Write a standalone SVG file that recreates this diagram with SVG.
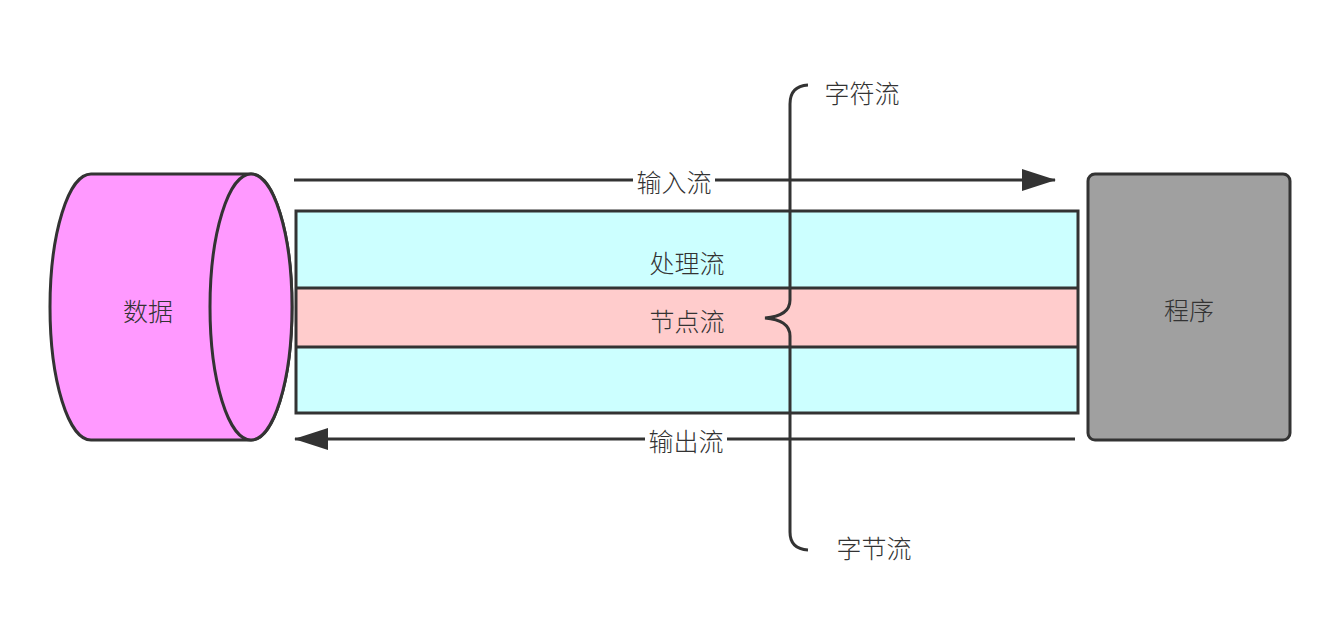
<svg xmlns="http://www.w3.org/2000/svg" width="1340" height="636" viewBox="0 0 1340 636">
<defs>
<style>
.s{stroke:#333;stroke-width:3;fill:none}
.t{font-family:"Noto Sans CJK SC","Liberation Sans",sans-serif;font-size:25px;font-weight:300;fill:#333;text-anchor:middle;dominant-baseline:central}
</style>
<marker id="ah" viewBox="0 0 34 22" refX="33" refY="11" markerWidth="34" markerHeight="22" markerUnits="userSpaceOnUse" orient="auto">
<path d="M0 0 L34 11 L0 22 Z" fill="#333"/>
</marker>
</defs>
<rect width="1340" height="636" fill="#fff"/>
<g id="bands">
<rect x="296" y="211" width="782" height="77" fill="#CCFFFF"/>
<rect x="296" y="288" width="782" height="59" fill="#FFCCCC"/>
<rect x="296" y="347" width="782" height="66" fill="#CCFFFF"/>
<rect x="296" y="211" width="782" height="202" class="s"/>
<line x1="296" y1="288" x2="1078" y2="288" class="s"/>
<line x1="296" y1="347" x2="1078" y2="347" class="s"/>
<text x="687" y="262" class="t">处理流</text>
<text x="687" y="320" class="t">节点流</text>
</g>
<g id="data">
<path d="M91 174 L251 174 A41 133 0 0 1 251 440 L91 440 A41 133 0 0 1 91 174 Z" class="s" style="fill:#FF99FF"/>
<ellipse cx="251" cy="307" rx="41" ry="133" class="s" style="fill:#FF99FF"/>
<text x="148" y="310" class="t">数据</text>
</g>
<g id="program">
<rect x="1088" y="174" width="202" height="266" rx="7" class="s" style="fill:#A0A0A0"/>
<text x="1189" y="309" class="t">程序</text>
</g>
<g id="connectors">
<line x1="294" y1="180" x2="1055" y2="180" class="s" marker-end="url(#ah)"/>
<rect x="633" y="167" width="82" height="26" fill="#fff"/>
<text x="674" y="181" class="t">输入流</text>
<line x1="1075" y1="439" x2="295" y2="439" class="s" marker-end="url(#ah)"/>
<rect x="645" y="426" width="82" height="26" fill="#fff"/>
<text x="686" y="440" class="t">输出流</text>
</g>
<g id="brace">
<path d="M808 85 Q790 86 790 104 L790 300 Q790 316 765 318 Q790 320 790 336 L790 532 Q790 549 808 550" class="s"/>
<text x="862" y="92" class="t">字符流</text>
<text x="874" y="547" class="t">字节流</text>
</g>
</svg>
